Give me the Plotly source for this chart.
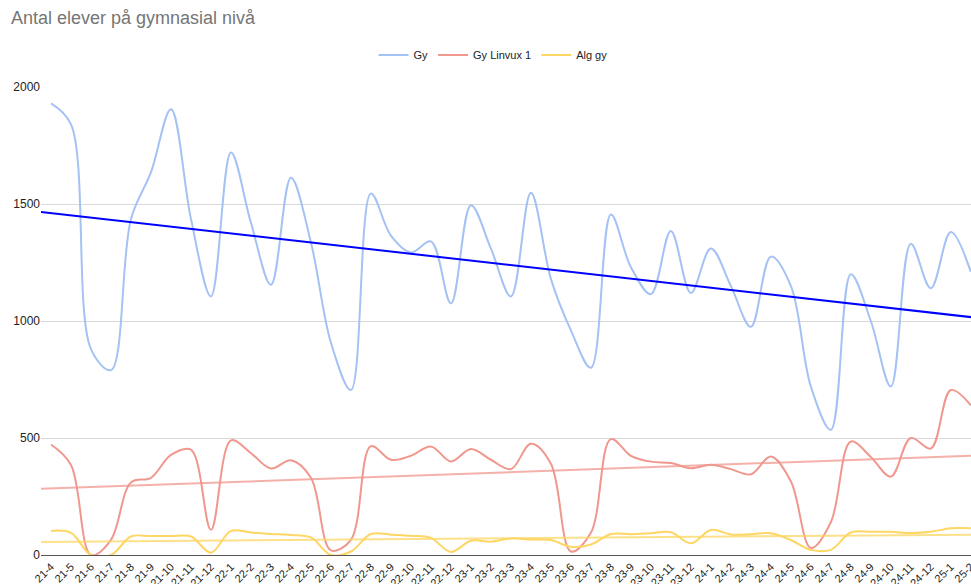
import numpy as np
import plotly.graph_objects as go

# Month labels (yy-m)
months = (
    [f"21-{m}" for m in range(4, 13)]
    + [f"22-{m}" for m in range(1, 13)]
    + [f"23-{m}" for m in range(1, 13)]
    + [f"24-{m}" for m in range(1, 13)]
    + ["25-1", "25-2"]
)

gy = [1930, 1840, 880, 790, 1436, 1636, 1905, 1436, 1105, 1720,
      1420, 1155, 1612, 1336, 907, 705, 1545, 1365, 1293, 1340,
      1075, 1495, 1310, 1105, 1548, 1180, 960, 800, 1455, 1230,
      1115, 1385, 1120, 1310, 1150, 975, 1275, 1150, 720, 535,
      1200, 1000, 720, 1330, 1140, 1380, 1210]

gy_linvux = [472, 385, 0, 65, 310, 330, 428, 450, 108, 490,
             435, 370, 405, 330, 20, 65, 465, 407, 424, 464,
             400, 453, 407, 367, 475, 390, 15, 95, 495, 424,
             399, 393, 371, 386, 367, 345, 421, 315, 30, 140,
             485, 419, 335, 500, 455, 705, 640]

alg_gy = [103, 95, 0, 0, 79, 81, 81, 79, 10, 103,
          96, 90, 86, 75, 0, 15, 90, 87, 82, 73,
          13, 61, 57, 71, 66, 64, 35, 45, 90, 89,
          93, 97, 50, 107, 88, 89, 93, 64, 22, 22,
          96, 99, 99, 94, 99, 114, 114]

series = [
    ("Gy", gy, "#a4c2f4", "#0000ff", 1.0),
    ("Gy Linvux 1", gy_linvux, "#f0978e", "#f0978e", 0.75),
    ("Alg gy", alg_gy, "#fdd663", "#fdd663", 0.75),
]

x = np.arange(len(months))
fig = go.Figure()

for name, vals, color, tcolor, topac in series:
    fig.add_trace(go.Scatter(
        x=x, y=vals, name=name, mode="lines",
        line=dict(color=color, width=2, shape="spline", smoothing=1),
        hoverinfo="x+y+name",
    ))

# Linear least-squares trendlines across the whole chart area
xt = np.array([-0.5, len(months) - 0.5])
for name, vals, color, tcolor, topac in series:
    k, m = np.polyfit(x, np.array(vals, dtype=float), 1)
    fig.add_trace(go.Scatter(
        x=xt, y=k * xt + m, mode="lines", showlegend=False,
        line=dict(color=tcolor, width=2), opacity=topac,
        hoverinfo="skip",
    ))

W, H = 971, 584
fig.update_layout(
    width=W, height=H,
    margin=dict(l=41, r=0, t=87, b=29),
    paper_bgcolor="white", plot_bgcolor="white",
    font=dict(family="Liberation Sans, Arial, sans-serif", color="#222222"),
    title=dict(
        text="Antal elever på gymnasial nivå",
        font=dict(size=18, color="#757575"),
        xref="container", yref="container",
        x=11 / W, xanchor="left", y=1 - 18 / H, yanchor="middle",
    ),
    legend=dict(
        orientation="h", xref="container", yref="container",
        x=493 / W, xanchor="center", y=1 - 55 / H, yanchor="middle",
        font=dict(size=11, color="#222222"), itemwidth=30,
    ),
    showlegend=True,
)

fig.update_xaxes(
    range=[-0.5, len(months) - 0.99],
    tickmode="array", tickvals=x, ticktext=months,
    tickangle=-45, tickfont=dict(size=11, color="#222222"),
    ticklabeloverflow="allow",
    showgrid=False, zeroline=False,
    showline=True, linecolor="#555555", linewidth=1,
    ticks="", automargin=False,
)
fig.update_yaxes(
    range=[0, 2000], tickvals=[0, 500, 1000, 1500, 2000],
    tickfont=dict(size=12, color="#222222"),
    showgrid=True, gridcolor="#d9d9d9", gridwidth=1,
    zeroline=False, ticks="", automargin=False,
)

fig.write_html("out.html")
